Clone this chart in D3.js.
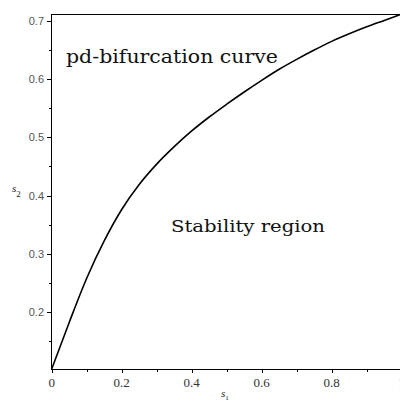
<!DOCTYPE html>
<html>
<head>
<meta charset="utf-8">
<script src="https://cdn.jsdelivr.net/npm/d3@7"></script>
<style>
  html, body { margin: 0; padding: 0; background: #fff; }
  svg { display: block; }
</style>
</head>
<body>
<svg id="chart" width="400" height="403"></svg>
<script>
// Period-doubling bifurcation curve in the (s1, s2) parameter plane
const s1 = [0, 0.05, 0.1, 0.15, 0.2, 0.25, 0.3, 0.35, 0.4, 0.45, 0.5,
            0.55, 0.6, 0.65, 0.7, 0.75, 0.8, 0.85, 0.9, 0.95, 1];
const s2 = [0.102, 0.182, 0.258, 0.322, 0.376, 0.419, 0.454, 0.484, 0.511, 0.535, 0.557,
            0.578, 0.598, 0.617, 0.634, 0.650, 0.665, 0.678, 0.690, 0.701, 0.712];

const xMajorTicks = [0, 0.2, 0.4, 0.6, 0.8, 1];
const xTickLabels = ["0", "0.2", "0.4", "0.6", "0.8", "1"];
const xMinorTicks = [0.1, 0.3, 0.5, 0.7, 0.9];
const yMajorTicks = [0.2, 0.3, 0.4, 0.5, 0.6, 0.7];
const yTickLabels = ["0.2", "0.3", "0.4", "0.5", "0.6", "0.7"];
const yMinorTicks = [0.15, 0.25, 0.35, 0.45, 0.55, 0.65];

const svg = d3.select("#chart");

const plotLeft = 51, plotTop = 14, plotBottom = 369;
const x = d3.scaleLinear().domain([0, 1]).range([51.7, 401.7]);
const y = d3.scaleLinear().domain(d3.extent(s2)).range([plotBottom, plotTop]);

// frame: left axis, bottom axis, top border
const frame = svg.append("g").attr("stroke", "#000").attr("stroke-width", 1).attr("shape-rendering", "crispEdges");
frame.append("line").attr("x1", plotLeft + 0.5).attr("x2", plotLeft + 0.5).attr("y1", plotTop).attr("y2", plotBottom + 1);
frame.append("line").attr("x1", plotLeft).attr("x2", 400).attr("y1", plotBottom + 0.5).attr("y2", plotBottom + 0.5);
frame.append("line").attr("x1", plotLeft).attr("x2", 400).attr("y1", plotTop + 0.5).attr("y2", plotTop + 0.5);

// x ticks
const xt = svg.append("g").attr("stroke", "#000").attr("shape-rendering", "crispEdges");
xt.selectAll("line.maj").data(xMajorTicks).join("line").attr("class", "maj")
  .attr("x1", d => Math.round(x(d)) + 0.5).attr("x2", d => Math.round(x(d)) + 0.5)
  .attr("y1", plotBottom).attr("y2", plotBottom + 4);
xt.selectAll("line.min").data(xMinorTicks).join("line").attr("class", "min")
  .attr("x1", d => Math.round(x(d)) + 0.5).attr("x2", d => Math.round(x(d)) + 0.5)
  .attr("y1", plotBottom).attr("y2", plotBottom + 3);

svg.append("g").selectAll("text").data(xMajorTicks).join("text")
  .attr("x", d => x(d)).attr("y", 387)
  .attr("text-anchor", "middle")
  .attr("font-family", "Liberation Serif, Times New Roman, serif")
  .attr("font-size", 13).attr("fill", "#333")
  .text((d, i) => xTickLabels[i]);

// y ticks
const yt = svg.append("g").attr("stroke", "#000").attr("shape-rendering", "crispEdges");
yt.selectAll("line.maj").data(yMajorTicks).join("line").attr("class", "maj")
  .attr("x1", plotLeft - 4).attr("x2", plotLeft)
  .attr("y1", d => Math.round(y(d)) + 0.5).attr("y2", d => Math.round(y(d)) + 0.5);
yt.selectAll("line.min").data(yMinorTicks).join("line").attr("class", "min")
  .attr("x1", plotLeft - 2).attr("x2", plotLeft)
  .attr("y1", d => Math.round(y(d)) + 0.5).attr("y2", d => Math.round(y(d)) + 0.5);

svg.append("g").selectAll("text").data(yMajorTicks).join("text")
  .attr("x", 44).attr("y", d => y(d)).attr("dy", "0.36em")
  .attr("text-anchor", "end")
  .attr("font-family", "Liberation Sans, Arial, sans-serif")
  .attr("font-size", 11).attr("fill", "#555")
  .text((d, i) => yTickLabels[i]);

// axis titles
const xl = svg.append("text").attr("x", 221).attr("y", 397)
  .attr("font-family", "Liberation Serif, serif").attr("fill", "#222");
xl.append("tspan").attr("font-style", "italic").attr("font-size", 11).text("s");
xl.append("tspan").attr("font-size", 7).attr("dy", 3).text("1");

const yl = svg.append("text").attr("x", 12).attr("y", 192)
  .attr("font-family", "Liberation Serif, serif").attr("fill", "#222");
yl.append("tspan").attr("font-style", "italic").attr("font-size", 11).text("s");
yl.append("tspan").attr("font-size", 9).attr("dy", 5).text("2");

// bifurcation curve
const pts = s1.map((d, i) => [d, s2[i]]);
const line = d3.line().x(d => x(d[0])).y(d => y(d[1])).curve(d3.curveMonotoneX);
svg.append("path").datum(pts)
  .attr("d", line)
  .attr("fill", "none")
  .attr("stroke", "#000")
  .attr("stroke-width", 1.6);

// region annotations
svg.append("text").attr("x", 66).attr("y", 63)
  .attr("font-family", "DejaVu Serif, serif").attr("font-size", 18).attr("fill", "#111")
  .attr("textLength", 212).attr("lengthAdjust", "spacingAndGlyphs")
  .text("pd-bifurcation curve");

svg.append("text").attr("x", 171).attr("y", 232)
  .attr("font-family", "DejaVu Serif, serif").attr("font-size", 17).attr("fill", "#111")
  .attr("textLength", 154).attr("lengthAdjust", "spacingAndGlyphs")
  .text("Stability region");
</script>
</body>
</html>
